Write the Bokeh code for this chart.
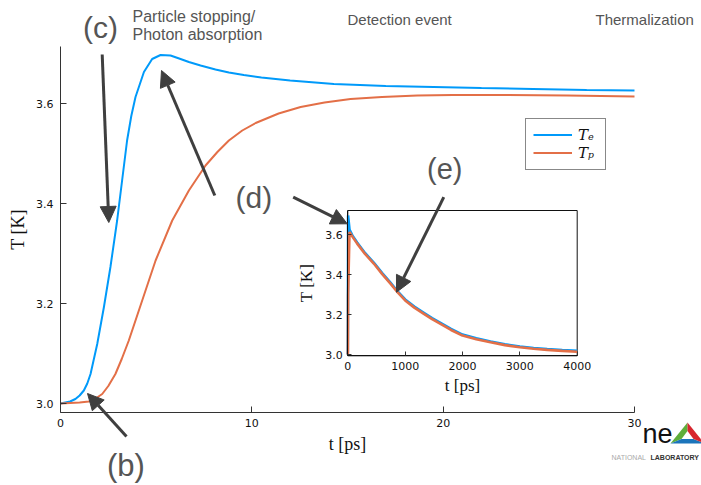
import math
from bokeh.plotting import figure
from bokeh.models import (Range1d, FixedTicker, NumeralTickFormatter, Legend, LegendItem,
                          Arrow, NormalHead, Label, PolyAnnotation, LinearAxis)
from bokeh.embed import file_html
from bokeh.resources import INLINE

# ---------------- data ----------------
t_e = [0.0, 0.5, 0.78, 1.0, 1.22, 1.4, 1.57, 1.92, 2.27, 2.61, 2.96, 3.22, 3.48, 3.7, 3.92,
       4.36, 4.79, 5.23, 5.75, 6.2, 6.71, 7.32, 8.1, 8.8, 9.58, 10.5, 12.0, 14.29, 17.0,
       19.5, 22.0, 24.7, 27.5, 30.0]
Te = [3.000, 3.004, 3.009, 3.016, 3.026, 3.040, 3.059, 3.119, 3.193, 3.273, 3.366, 3.446,
      3.526, 3.575, 3.613, 3.663, 3.689, 3.697, 3.696, 3.690, 3.683, 3.676, 3.668, 3.662,
      3.657, 3.652, 3.646, 3.639, 3.635, 3.633, 3.631, 3.629, 3.627, 3.626]

t_p = [0.0, 1.0, 1.48, 1.8, 2.18, 2.5, 2.87, 3.2, 3.57, 4.27, 4.97, 5.84, 6.71, 7.58, 8.2,
       8.8, 9.5, 10.2, 11.4, 12.55, 13.8, 15.16, 16.8, 18.65, 20.5, 23.0, 26.5, 30.0]
Tp = [3.000, 3.002, 3.004, 3.009, 3.019, 3.035, 3.059, 3.089, 3.126, 3.206, 3.286, 3.366,
      3.426, 3.476, 3.503, 3.526, 3.546, 3.561, 3.580, 3.593, 3.602, 3.609, 3.613, 3.616,
      3.617, 3.617, 3.616, 3.614]

t_inset = [0, 2.3, 5.2, 30, 80, 163, 300, 453, 600, 744, 870, 1000, 1160, 1326, 1470, 1616,
           1800, 2000, 2240, 2488, 2740, 3000, 3240, 3477, 3740, 4000]
Te_inset = [3.000, 3.193, 3.697, 3.626, 3.597, 3.562, 3.509, 3.461, 3.408, 3.360, 3.316,
            3.276, 3.240, 3.209, 3.182, 3.159, 3.128, 3.100, 3.081, 3.065, 3.051, 3.040,
            3.033, 3.027, 3.022, 3.018]
Tp_inset = [3.000, 3.020, 3.300, 3.614, 3.591, 3.556, 3.504, 3.456, 3.403, 3.355, 3.311,
            3.271, 3.235, 3.204, 3.177, 3.154, 3.123, 3.095, 3.077, 3.061, 3.047, 3.036,
            3.029, 3.023, 3.018, 3.014]

x_ticks_main = [0, 10, 20, 30]
y_ticks_main = [3.0, 3.2, 3.4, 3.6]
x_ticks_inset = [0, 1000, 2000, 3000, 4000]
y_ticks_inset = [3.0, 3.2, 3.4, 3.6]

legend_labels = ["T\u2091", "T\u209a"]
series_colors = ["#009AFA", "#E36F47"]

# ---------------- layout ----------------
W, H = 701, 485
FL, FR, FT, FB = 60, 634, 46, 412          # main plot box, page pixels
XMIN, XMAX = 0.0, 30.0
YMIN, YMAX = 2.982, 3.714

IL, IR, IT, IB = 347.3, 576.7, 210.0, 355.3  # inset box, page pixels
IXMIN, IXMAX = 0.0, 4000.0
IYMIN, IYMAX = 2.9935, 3.722

kx = (FR - FL) / (XMAX - XMIN)
ky = (FB - FT) / (YMAX - YMIN)
x_range = Range1d(XMIN - FL / kx, XMAX + (W - FR) / kx)
y_range = Range1d(YMIN - (H - FB) / ky, YMAX + FT / ky)

sx = (IR - IL) / (IXMAX - IXMIN)
sy = (IB - IT) / (IYMAX - IYMIN)
ix_range = Range1d(IXMIN - IL / sx, IXMAX + (W - IR) / sx)
iy_range = Range1d(IYMIN - (H - IB) / sy, IYMAX + IT / sy)


def X(px):
    return x_range.start + px / kx


def Y(py):
    return y_range.end - py / ky


p = figure(width=W, height=H, x_range=x_range, y_range=y_range,
           output_backend="svg", toolbar_location=None,
           min_border_left=0, min_border_right=0, min_border_top=0, min_border_bottom=0)
p.extra_x_ranges = {"ix": ix_range}
p.extra_y_ranges = {"iy": iy_range}

p.outline_line_color = None
p.grid.visible = False
p.background_fill_color = "white"
p.border_fill_color = "white"


def style_axis(ax, tick_in=6, label_size="18px"):
    ax.major_tick_in = tick_in
    ax.major_tick_out = 0
    ax.minor_tick_line_color = None
    ax.axis_line_color = "#333333"
    ax.major_tick_line_color = "#333333"
    ax.major_label_text_font = "DejaVu Sans"
    ax.major_label_text_font_size = "11px"
    ax.major_label_text_color = "#111111"
    ax.axis_label_text_font = "Liberation Serif"
    ax.axis_label_text_font_size = label_size
    ax.axis_label_text_font_style = "normal"
    ax.axis_label_text_color = "#111111"


xa, ya = p.xaxis[0], p.yaxis[0]
style_axis(xa)
style_axis(ya)
xa.fixed_location = YMIN
xa.bounds = (XMIN, XMAX)
ya.fixed_location = XMIN
ya.bounds = (YMIN, YMAX)
xa.ticker = FixedTicker(ticks=x_ticks_main)
ya.ticker = FixedTicker(ticks=y_ticks_main)
ya.formatter = NumeralTickFormatter(format="0.0")
xa.axis_label = "t [ps]"
ya.axis_label = "T [K]"
xa.major_label_standoff = 6
ya.major_label_standoff = 7
xa.axis_label_standoff = 4
ya.axis_label_standoff = 5

# main curves
r_e = p.line(t_e, Te, line_color=series_colors[0], line_width=2)
r_p = p.line(t_p, Tp, line_color=series_colors[1], line_width=2)

# ---------------- inset ----------------
kw = dict(x_range_name="ix", y_range_name="iy")
p.quad(left=[IXMIN], right=[IXMAX], bottom=[IYMIN], top=[IYMAX], fill_color="white",
       line_color="#111111", line_width=1, **kw)
p.line(t_inset, Te_inset, line_color=series_colors[0], line_width=2.6, **kw)
p.line(t_inset, Tp_inset, line_color=series_colors[1], line_width=2.6, **kw)

ixa = LinearAxis(x_range_name="ix", y_range_name="iy", fixed_location=IYMIN,
                 bounds=(IXMIN, IXMAX), ticker=FixedTicker(ticks=x_ticks_inset),
                 axis_label="t [ps]")
iya = LinearAxis(x_range_name="ix", y_range_name="iy", fixed_location=IXMIN,
                 bounds=(IYMIN, IYMAX), ticker=FixedTicker(ticks=y_ticks_inset),
                 formatter=NumeralTickFormatter(format="0.0"), axis_label="T [K]")
for ax in (ixa, iya):
    style_axis(ax, tick_in=4, label_size="17px")
    ax.axis_line_color = "#111111"
ixa.major_label_standoff = 6
iya.major_label_standoff = 5
ixa.axis_label_standoff = 3
iya.axis_label_standoff = 6
p.add_layout(ixa, "below")
p.add_layout(iya, "left")

# ---------------- legend ----------------
legend = Legend(items=[LegendItem(label=legend_labels[0], renderers=[r_e]),
                       LegendItem(label=legend_labels[1], renderers=[r_p])],
                location=(525, H - 169.5), orientation="vertical",
                border_line_color="#111111", border_line_width=1,
                background_fill_color="white", background_fill_alpha=1.0,
                label_text_font="DejaVu Serif", label_text_font_style="italic",
                label_text_font_size="15px", label_text_color="#111111",
                glyph_width=39, glyph_height=17, label_height=17, label_standoff=6,
                padding=7, spacing=0, margin=0)
p.add_layout(legend)

# ---------------- annotations ----------------
GREY = "#555555"
ACOL = "#3f3f3f"


def add_label(txt, px, py, size, color=GREY, style="normal", font="Liberation Sans"):
    # py is the wanted baseline; Bokeh places the text about a third of an em lower
    py = py - 0.33 * size
    p.add_layout(Label(x=X(px), y=Y(py), text=txt, text_align="left",
                       text_baseline="alphabetic", text_font=font,
                       text_font_size=f"{size}px", text_color=color, text_font_style=style))


add_label("Particle stopping/", 132, 21, 16)
add_label("Photon absorption", 132, 39.5, 16)
add_label("Detection event", 347, 24, 15)
add_label("Thermalization", 595, 24, 15)
add_label("(c)", 82.5, 37, 30)
add_label("(b)", 106.5, 475.5, 31)
add_label("(d)", 235, 207, 30)
add_label("(e)", 426.5, 178.5, 29)

arrows = [((101.7, 54), (108.3, 222)),
          ((214.3, 195), (161, 70)),
          ((126, 436), (87, 393)),
          ((292.7, 196.7), (346.7, 223.3)),
          ((443.3, 196.7), (396, 291.7))]
for (x0, y0), (x1, y1) in arrows:
    p.add_layout(Arrow(end=NormalHead(size=16, fill_color=ACOL, line_color=ACOL, line_width=1),
                       x_start=X(x0), y_start=Y(y0), x_end=X(x1), y_end=Y(y1),
                       line_color=ACOL, line_width=3))

# logo fragment (bottom right)
Tt, BLt, BRt = (687, 422), (670, 443), (704, 443)
ti, bli, bri = (687, 430.5), (681, 438.5), (693, 438.5)
for pts, col in [([Tt, BLt, bli, ti], "#5fae3a"),
                 ([BLt, BRt, bri, bli], "#1b75bb"),
                 ([Tt, ti, bri, BRt], "#d7262e")]:
    p.add_layout(PolyAnnotation(xs=[X(a) for a, b in pts], ys=[Y(b) for a, b in pts],
                                fill_color=col, fill_alpha=1.0, line_color=None))
add_label("ne", 642, 442, 27, color="#111111")
add_label("LABORATORY", 650, 459, 7, color="#333333", style="bold")
add_label("NATIONAL", 611, 459, 7, color="#aaaaaa")

open("out.html", "w").write(file_html(p, INLINE))
